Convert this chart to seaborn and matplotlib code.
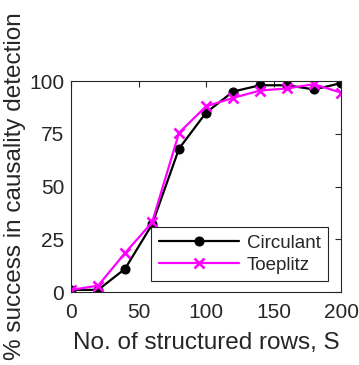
import numpy as np
import pandas as pd
import matplotlib
matplotlib.use("Agg")
import matplotlib.pyplot as plt
import seaborn as sns

# data
rows = [0, 20, 40, 60, 80, 100, 120, 140, 160, 180, 200]
circulant = [1, 1, 11, 32, 68, 85, 95, 98, 98, 96, 99]
toeplitz = [1, 3, 18.5, 33, 75.5, 88, 92, 95.5, 96.5, 98.5, 94.5]

xticks = [0, 50, 100, 150, 200]
yticks = [0, 25, 50, 75, 100]

sns.set_style("white")
plt.rcParams['font.family'] = ['Liberation Sans', 'DejaVu Sans']

fig, ax = plt.subplots(figsize=(3.59, 3.65), dpi=100)
fig.subplots_adjust(left=0.198, right=0.95, top=0.778, bottom=0.2)

# one call per series so each gets its own marker
sns.lineplot(x=rows, y=circulant, color="black", marker="o", markersize=6.5,
             markeredgecolor="black", linewidth=1.6, label="Circulant", ax=ax)
sns.lineplot(x=rows, y=toeplitz, color="#ff00ff", marker="x", markersize=7,
             markeredgewidth=1.9, markeredgecolor="#ff00ff", linewidth=1.6,
             label="Toeplitz", ax=ax)

ax.set_xlim(0, 200)
ax.set_ylim(0, 100)
ax.set_xticks(xticks)
ax.set_yticks(yticks)
ax.tick_params(direction="in", length=4, top=True, right=True,
               labelsize=15, colors="#262626", width=0.8)
ax.tick_params(axis="x", pad=8)
ax.tick_params(axis="y", pad=5)
for s in ax.spines.values():
    s.set_color("#262626")
    s.set_linewidth(0.8)

ax.set_xlabel("No. of structured rows, S", fontsize=17.5, color="#262626", labelpad=7)
ax.set_ylabel("% success in causality detection", fontsize=17.5, color="#262626", labelpad=2)

leg = ax.legend(loc="lower right", bbox_to_anchor=(0.952, 0.052), borderaxespad=0,
                fontsize=13.5, handlelength=4.3, fancybox=False, framealpha=1,
                edgecolor="#262626", borderpad=0.4, labelspacing=0.25,
                handletextpad=0.4)
leg.get_frame().set_linewidth(0.8)

fig.savefig("out.png", dpi=100)
